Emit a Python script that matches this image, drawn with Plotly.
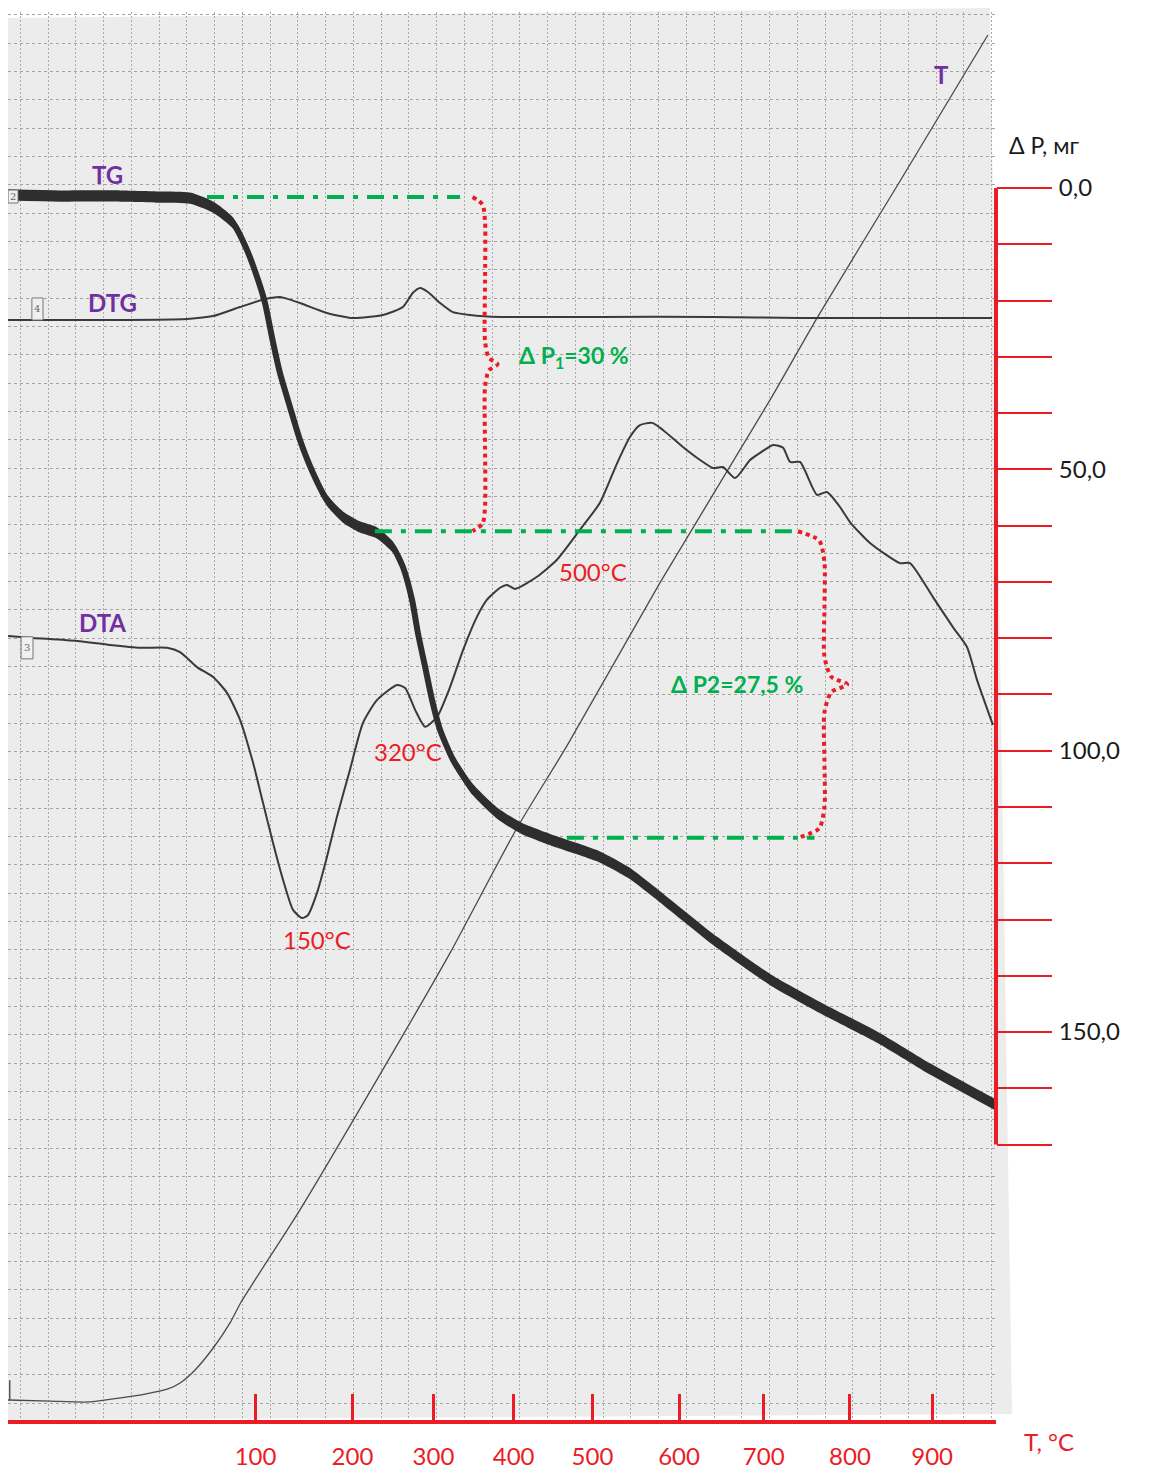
import plotly.graph_objects as go

# Time axis: chart-paper divisions (one grid square = 1).
# TG is the mass loss in mg; DTG, DTA and T are pen deflections in grid divisions.
tg_t = [-0.44, 1.43, 3.60, 5.04, 6.12, 6.95, 7.67, 8.17, 8.57, 8.82, 9.07, 9.36, 9.72, 10.08,
        10.55, 11.05, 11.63, 12.24, 12.86, 13.43, 13.79, 14.12, 14.33, 14.59, 14.84, 15.13,
        15.60, 16.32, 17.18, 18.05, 19.34, 20.89, 21.94, 23.20, 25.14, 27.05, 28.99, 30.94,
        32.85, 35.15]
tg_dp = [1.24, 1.42, 1.42, 1.60, 1.78, 3.38, 6.22, 11.02, 16.35, 20.44, 26.48, 32.88, 38.92,
         44.78, 50.65, 55.45, 58.47, 60.24, 61.31, 63.80, 67.35, 73.22, 79.08, 85.12, 90.99,
         96.32, 101.65, 106.98, 111.07, 113.74, 116.22, 118.89, 121.73, 126.53, 134.17,
         140.75, 146.08, 151.06, 156.74, 162.96]

dtg_t = [-0.44, 2.26, 6.01, 6.95, 7.92, 8.71, 9.36, 10.08, 11.05, 11.99, 13.07, 13.79, 14.15,
         14.41, 14.69, 15.13, 15.59, 16.21, 17.29, 20.89, 24.96, 28.10, 31.70, 35.02]
dtg_y = [38.23, 38.23, 38.27, 38.37, 38.69, 38.94, 39.04, 38.83, 38.48, 38.30, 38.41, 38.69,
         39.19, 39.36, 39.22, 38.83, 38.51, 38.41, 38.34, 38.34, 38.34, 38.30, 38.30, 38.30]

dta_t = [-0.44, 0.46, 2.05, 3.23, 4.32, 5.29, 5.76, 6.37, 6.95, 7.45, 7.92, 8.39, 8.75, 9.11,
         9.47, 9.83, 10.15, 10.37, 10.69, 11.05, 11.41, 11.88, 12.35, 12.86, 13.58, 13.87,
         14.23, 14.59, 15.02, 15.49, 15.96, 16.46, 16.82, 17.29, 17.54, 17.83, 18.62, 19.34,
         20.17, 20.89, 21.51, 21.97, 22.33, 22.77, 23.16, 23.88, 24.50, 24.96, 25.32, 25.76,
         26.30, 26.66, 27.13, 27.49, 27.74, 28.10, 28.71, 29.07, 29.54, 29.90, 30.62, 31.70,
         32.06, 32.89, 33.61, 34.12, 34.48, 35.05]
dta_y = [27.08, 27.01, 26.90, 26.76, 26.66, 26.66, 26.51, 25.98, 25.63, 25.07, 24.12, 22.60,
         21.18, 19.77, 18.47, 17.41, 17.12, 17.23, 18.00, 19.27, 20.69, 22.35, 24.01, 24.82,
         25.35, 25.24, 24.47, 23.87, 24.22, 25.28, 26.59, 27.76, 28.36, 28.78, 28.88, 28.74,
         29.17, 29.77, 30.83, 31.78, 33.18, 34.10, 34.52, 34.60, 34.35, 33.75, 33.29, 33.01,
         33.04, 32.65, 33.29, 33.54, 33.82, 33.72, 33.22, 33.22, 32.06, 32.16, 31.63, 31.10,
         30.36, 29.65, 29.65, 28.45, 27.39, 26.68, 25.52, 23.94]

temp_t = [-0.44, 1.07, 2.44, 3.27, 4.50, 5.32, 5.76, 6.30, 6.98, 7.56, 7.96, 10.08, 13.69,
          15.49, 17.90, 19.70, 23.05, 27.02, 28.71, 31.70, 34.87]
temp_y = [0.11, 0.07, 0.04, 0.14, 0.32, 0.50, 0.71, 1.17, 1.98, 2.83, 3.57, 6.82, 12.82,
          15.89, 20.30, 23.20, 28.95, 35.41, 38.30, 43.13, 48.29]

# Temperature scale marks along the time axis
temp_mark_t = [8.48, 11.97, 14.89, 17.78, 20.62, 23.74, 26.79, 29.90, 32.86]
temp_mark_label = ["100", "200", "300", "400", "500", "600", "700", "800", "900"]

# Mass scale (mg)
dp_ticks = list(range(0, 171, 10))
dp_label_vals = [0, 50, 100, 150]
dp_label_text = ["0,0", "50,0", "100,0", "150,0"]

# Weight-loss steps
tg_start_level = 1.6      # mg, pen level before decomposition
sample_mass = 198.0       # mg
loss_pct = [30, 27.5]
peak_labels = ["150°C", "320°C", "500°C"]
curve_names = ["TG", "DTG", "DTA", "T"]

RED = "#ec1c24"
GREEN = "#00b050"
PURPLE = "#7030a0"
INK = "#2e2e2e"
FONT = "Lato, 'Noto Sans', sans-serif"

levels = [tg_start_level]
for p in loss_pct:
    levels.append(levels[-1] + sample_mass * p / 100.0)

fig = go.Figure()

# thin recorder curves on the deflection axis
fig.add_trace(go.Scatter(x=temp_t, y=temp_y, mode="lines", yaxis="y",
                         line=dict(color="#4a4a4a", width=1.3, shape="spline", smoothing=0.6)))
fig.add_trace(go.Scatter(x=dtg_t, y=dtg_y, mode="lines", yaxis="y",
                         line=dict(color="#3a3a3a", width=2, shape="spline", smoothing=0.6)))
fig.add_trace(go.Scatter(x=dta_t, y=dta_y, mode="lines", yaxis="y",
                         line=dict(color="#3a3a3a", width=2, shape="spline", smoothing=0.6)))

# TG pen trace: a band of constant vertical thickness plus a centre stroke
half = 1.0
fig.add_trace(go.Scatter(x=tg_t, y=[v - half for v in tg_dp], mode="lines", yaxis="y2",
                         line=dict(width=0, shape="spline", smoothing=0.6, color=INK)))
fig.add_trace(go.Scatter(x=tg_t, y=[v + half for v in tg_dp], mode="lines", yaxis="y2",
                         fill="tonexty", fillcolor=INK,
                         line=dict(width=0, shape="spline", smoothing=0.6, color=INK)))
fig.add_trace(go.Scatter(x=tg_t, y=tg_dp, mode="lines", yaxis="y2",
                         line=dict(color=INK, width=6, shape="spline", smoothing=0.6)))

# dash-dot level lines of the weight-loss steps
level_spans = [(6.73, 15.85), (12.78, 28.10), (19.70, 28.62)]
for lv, (a, b) in zip(levels, level_spans):
    fig.add_trace(go.Scatter(x=[a, b], y=[lv, lv], mode="lines", yaxis="y2",
                             line=dict(color=GREEN, width=4, dash="17px,9px,5px,9px")))


def brace(xb, top, bot, cw, tip, r):
    mid = (top + bot) / 2.0
    xs = [xb - cw, xb - cw * 0.2, xb, xb, xb, xb + tip * 0.3, xb + tip,
          xb + tip * 0.3, xb, xb, xb, xb - cw * 0.2, xb - cw]
    ys = [top, top + r * 0.3, top + r, (top + mid) / 2, mid - r * 0.9, mid - r * 0.25, mid,
          mid + r * 0.25, mid + r * 0.9, (mid + bot) / 2, bot - r, bot - r * 0.3, bot]
    return xs, ys


for (xb, cw, tip, r), top, bot in zip([(16.75, 0.45, 0.45, 4.5), (28.98, 0.95, 0.82, 5.5)],
                                      levels[:-1], levels[1:]):
    bx, by = brace(xb, top, bot, cw, tip, r)
    fig.add_trace(go.Scatter(x=bx, y=by, mode="lines", yaxis="y2",
                             line=dict(color=RED, width=4, dash="4px,4px",
                                       shape="spline", smoothing=0.7)))

# chart paper
fig.add_shape(type="path", xref="paper", yref="paper", layer="below",
              path="M 0,0.9957 L 0.9939,1.0028 L 1.0162,0.0043 L 0,0 Z",
              fillcolor="#ececec", line=dict(width=0))

# right-hand mass scale line
fig.add_shape(type="line", xref="paper", yref="y2", x0=1, x1=1, y0=0, y1=dp_ticks[-1],
              line=dict(color=RED, width=4))

# pen marker boxes
for x0, x1, y0, y1, yr, txt in [(-0.44, -0.08, 0.36, 2.67, "y2", "2"),
                                (0.42, 0.82, 38.23, 39.01, "y", "4"),
                                (0.03, 0.46, 26.27, 27.05, "y", "3")]:
    fig.add_shape(type="rect", xref="x", yref=yr, x0=x0, x1=x1, y0=y0, y1=y1,
                  line=dict(color="#777777", width=1), fillcolor="#f0f0f0")
    fig.add_annotation(x=(x0 + x1) / 2, y=(y0 + y1) / 2, yref=yr, text=txt, showarrow=False,
                       xanchor="center", yanchor="middle",
                       font=dict(family="DejaVu Serif", size=10, color="#666666"))
fig.add_shape(type="line", xref="x", yref="y", x0=-0.38, x1=-0.38, y0=0.11, y1=0.81,
              line=dict(color="#555555", width=1.5))

# curve names
for name, (x, y) in zip(curve_names, [(3.13, 43.38), (3.31, 38.86), (2.98, 27.57),
                                       (33.18, 46.89)]):
    fig.add_annotation(x=x, y=y, text=f"<b>{name}</b>", showarrow=False,
                       xanchor="center", yanchor="middle",
                       font=dict(family=FONT, size=24, color=PURPLE))

# peak temperatures
for txt, (x, y) in zip(peak_labels, [(10.69, 16.38), (13.97, 22.99), (20.64, 29.37)]):
    fig.add_annotation(x=x, y=y, text=txt, showarrow=False,
                       xanchor="center", yanchor="middle",
                       font=dict(family=FONT, size=24, color=RED))

# weight-loss labels
fig.add_annotation(x=17.9, y=29.9, yref="y2", xanchor="left", yanchor="middle",
                   showarrow=False,
                   text=f"<b>Δ P<sub>1</sub>={loss_pct[0]:g} %</b>",
                   font=dict(family=FONT, size=23, color=GREEN))
fig.add_annotation(x=28.28, y=88.15, yref="y2", xanchor="right", yanchor="middle",
                   showarrow=False,
                   text="<b>Δ P2=" + f"{loss_pct[1]:g}".replace(".", ",") + " %</b>",
                   font=dict(family=FONT, size=23, color=GREEN))

# axis titles
fig.add_annotation(x=1.0486, y=-7.64, xref="paper", yref="y2", text="Δ P, мг",
                   xanchor="center", yanchor="middle",
                   showarrow=False, font=dict(family=FONT, size=23, color="#1a1a1a"))
fig.add_annotation(x=1.0536, y=-0.0156, xref="paper", yref="paper", text="T, °C",
                   xanchor="center", yanchor="middle",
                   showarrow=False, font=dict(family=FONT, size=24, color=RED))

fig.update_layout(
    width=1150, height=1478,
    margin=dict(l=8, r=154, t=12, b=58),
    paper_bgcolor="white", plot_bgcolor="rgba(0,0,0,0)",
    showlegend=False,
    xaxis=dict(
        range=[-0.4414, 35.162], tickmode="array", tickvals=temp_mark_t,
        ticktext=temp_mark_label, ticks="inside", ticklen=26, tickwidth=2.5,
        tickcolor=RED, showline=True, linecolor=RED, linewidth=4,
        tickfont=dict(family=FONT, size=24, color=RED), ticklabelstandoff=12,
        showgrid=False, zeroline=False,
        minor=dict(tickmode="linear", tick0=0, dtick=1, showgrid=True,
                   gridcolor="#a9a9a9", griddash="2px,2px", gridwidth=1, ticks=""),
    ),
    yaxis=dict(
        range=[-0.5965, 49.103], dtick=1, tick0=0, showgrid=True,
        gridcolor="#a2a2a2", griddash="3px,3px", gridwidth=1,
        showticklabels=False, ticks="", showline=False, zeroline=False,
    ),
    yaxis2=dict(
        overlaying="y", side="right", anchor="x",
        range=[218.94, -31.28], tickmode="array", tickvals=dp_label_vals,
        ticktext=dp_label_text,
        ticks="outside", ticklen=55, tickwidth=2, tickcolor=RED,
        tickfont=dict(family=FONT, size=24, color="#1a1a1a"), ticklabelstandoff=2,
        minor=dict(tickmode="array", tickvals=dp_ticks, ticks="outside", ticklen=55,
                   tickwidth=2, tickcolor=RED, showgrid=False),
        showline=False, showgrid=False, zeroline=False,
    ),
)

fig.write_html("out.html")
